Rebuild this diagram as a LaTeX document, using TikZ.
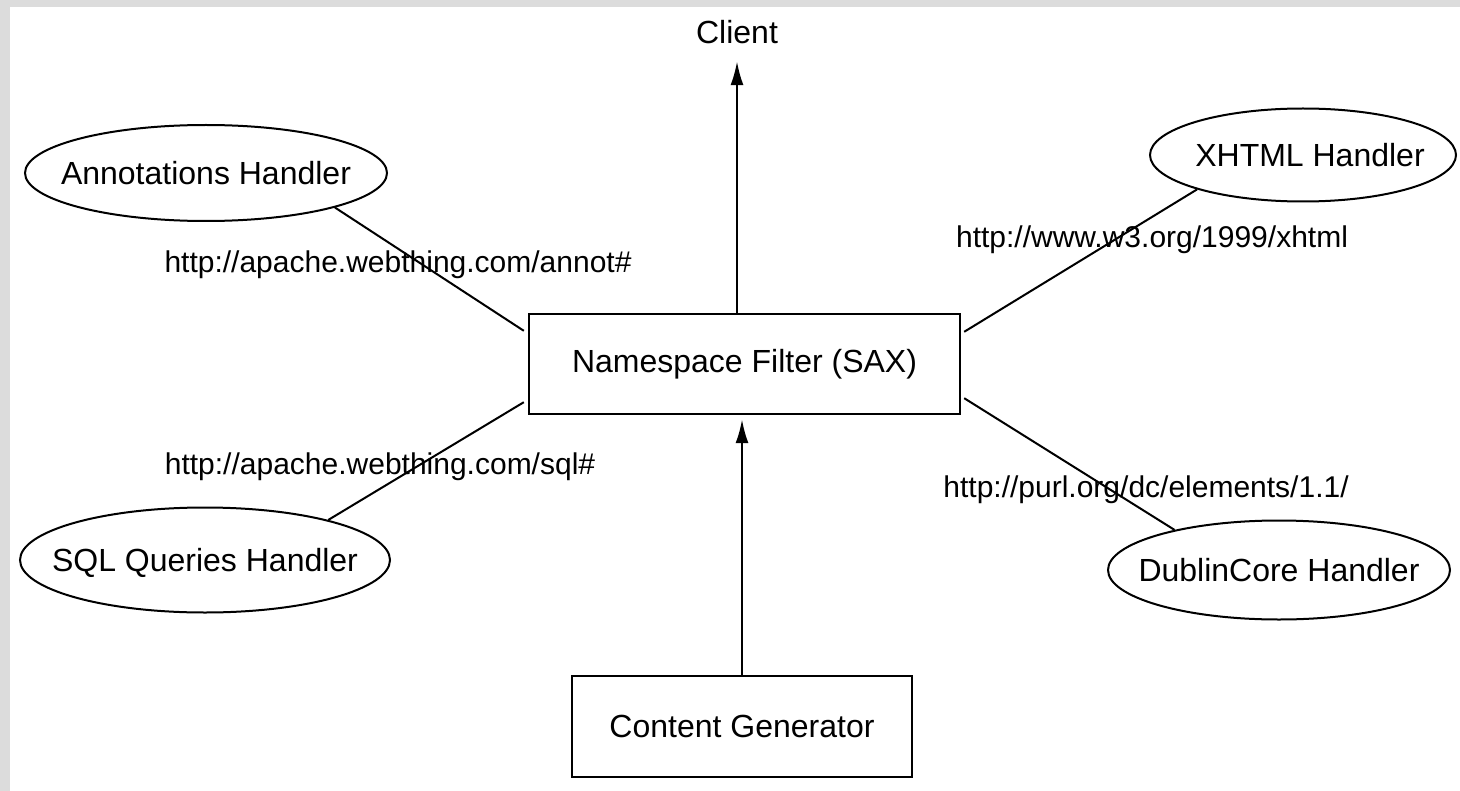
\documentclass[tikz,border=0pt]{standalone}
\usepackage{fontspec}
\setmainfont{Liberation Sans}
\usetikzlibrary{shapes,arrows.meta,positioning,calc}
\definecolor{framegray}{HTML}{DCDCDC}
\newcommand{\hname}[1]{\makebox[0pt]{\raisebox{-.36em}[0pt][0pt]{#1}}}
\tikzset{
  handler/.style={draw, ellipse, line width=1pt, inner sep=0pt, font=\fontsize{16}{19}\selectfont},
  stage/.style={draw, rectangle, line width=1.2pt, inner sep=0pt, font=\fontsize{16}{19}\selectfont},
  nsurl/.style={inner sep=0pt, font=\fontsize{15}{18}\selectfont},
  link/.style={line width=1pt},
  flow/.style={line width=1.2pt, -{Latex[length=12pt,width=6.5pt]}}
}

\begin{document}
\begin{tikzpicture}[x=0.5pt,y=-0.5pt]
\useasboundingbox (0,0) rectangle (1460,791);
\fill[framegray] (0,0) rectangle (1460,791);
\fill[white] (10,7) rectangle (1460,791);

% filter and generator
\node[stage, minimum width=215.5pt, minimum height=50pt] (ns) at (744.5,364) {Namespace Filter (SAX)};
\node[stage, minimum width=170pt, minimum height=50.5pt] (cg) at (742,726.5) {Content Generator};
\node[inner sep=0pt, font=\fontsize{16}{19}\selectfont] (client) at (737,32) {Client};
\coordinate (clientin) at ($(client.south)+(0,17)$);

% handlers
\node[handler, minimum width=181pt, minimum height=48pt] (ann) at (206,173) {\hname{Annotations Handler}};
\node[handler, minimum width=185pt, minimum height=52.5pt] (sql) at (205,560) {\hname{SQL Queries Handler}};
\node[handler, minimum width=153pt, minimum height=46.5pt] (xhtml) at (1303,155) {\hname{\hspace{7pt}XHTML Handler}};
\node[handler, minimum width=171pt, minimum height=49.5pt] (dc) at (1279,570) {\hname{DublinCore Handler}};

% namespaces
\node[nsurl] (annurl) at (398,265) {http://apache.webthing.com/annot\#};
\node[nsurl] (sqlurl) at (380,467) {http://apache.webthing.com/sql\#};
\node[nsurl] (xhtmlurl) at (1152,240) {http://www.w3.org/1999/xhtml};
\node[nsurl] (dcurl) at (1146,490) {http://purl.org/dc/elements/1.1/};

\coordinate (nsann) at ($(ns.north west)+(-4,18)$);
\coordinate (nssql) at ($(ns.south west)+(-4,-13)$);
\coordinate (nsxhtml) at ($(ns.north east)+(3,19)$);
\coordinate (nsdc) at ($(ns.south east)+(3,-17)$);

\draw[link] (ann.-15) -- (nsann);
\draw[link] (sql.18) -- (nssql);
\draw[link] (xhtml.-162) -- (nsxhtml);
\draw[link] (dc.159) -- (nsdc);

\draw[flow] (ns.north -| clientin) -- (clientin);
\draw[flow, shorten >=2pt] (cg.north) -- (cg.north |- ns.south);
\end{tikzpicture}
\end{document}
